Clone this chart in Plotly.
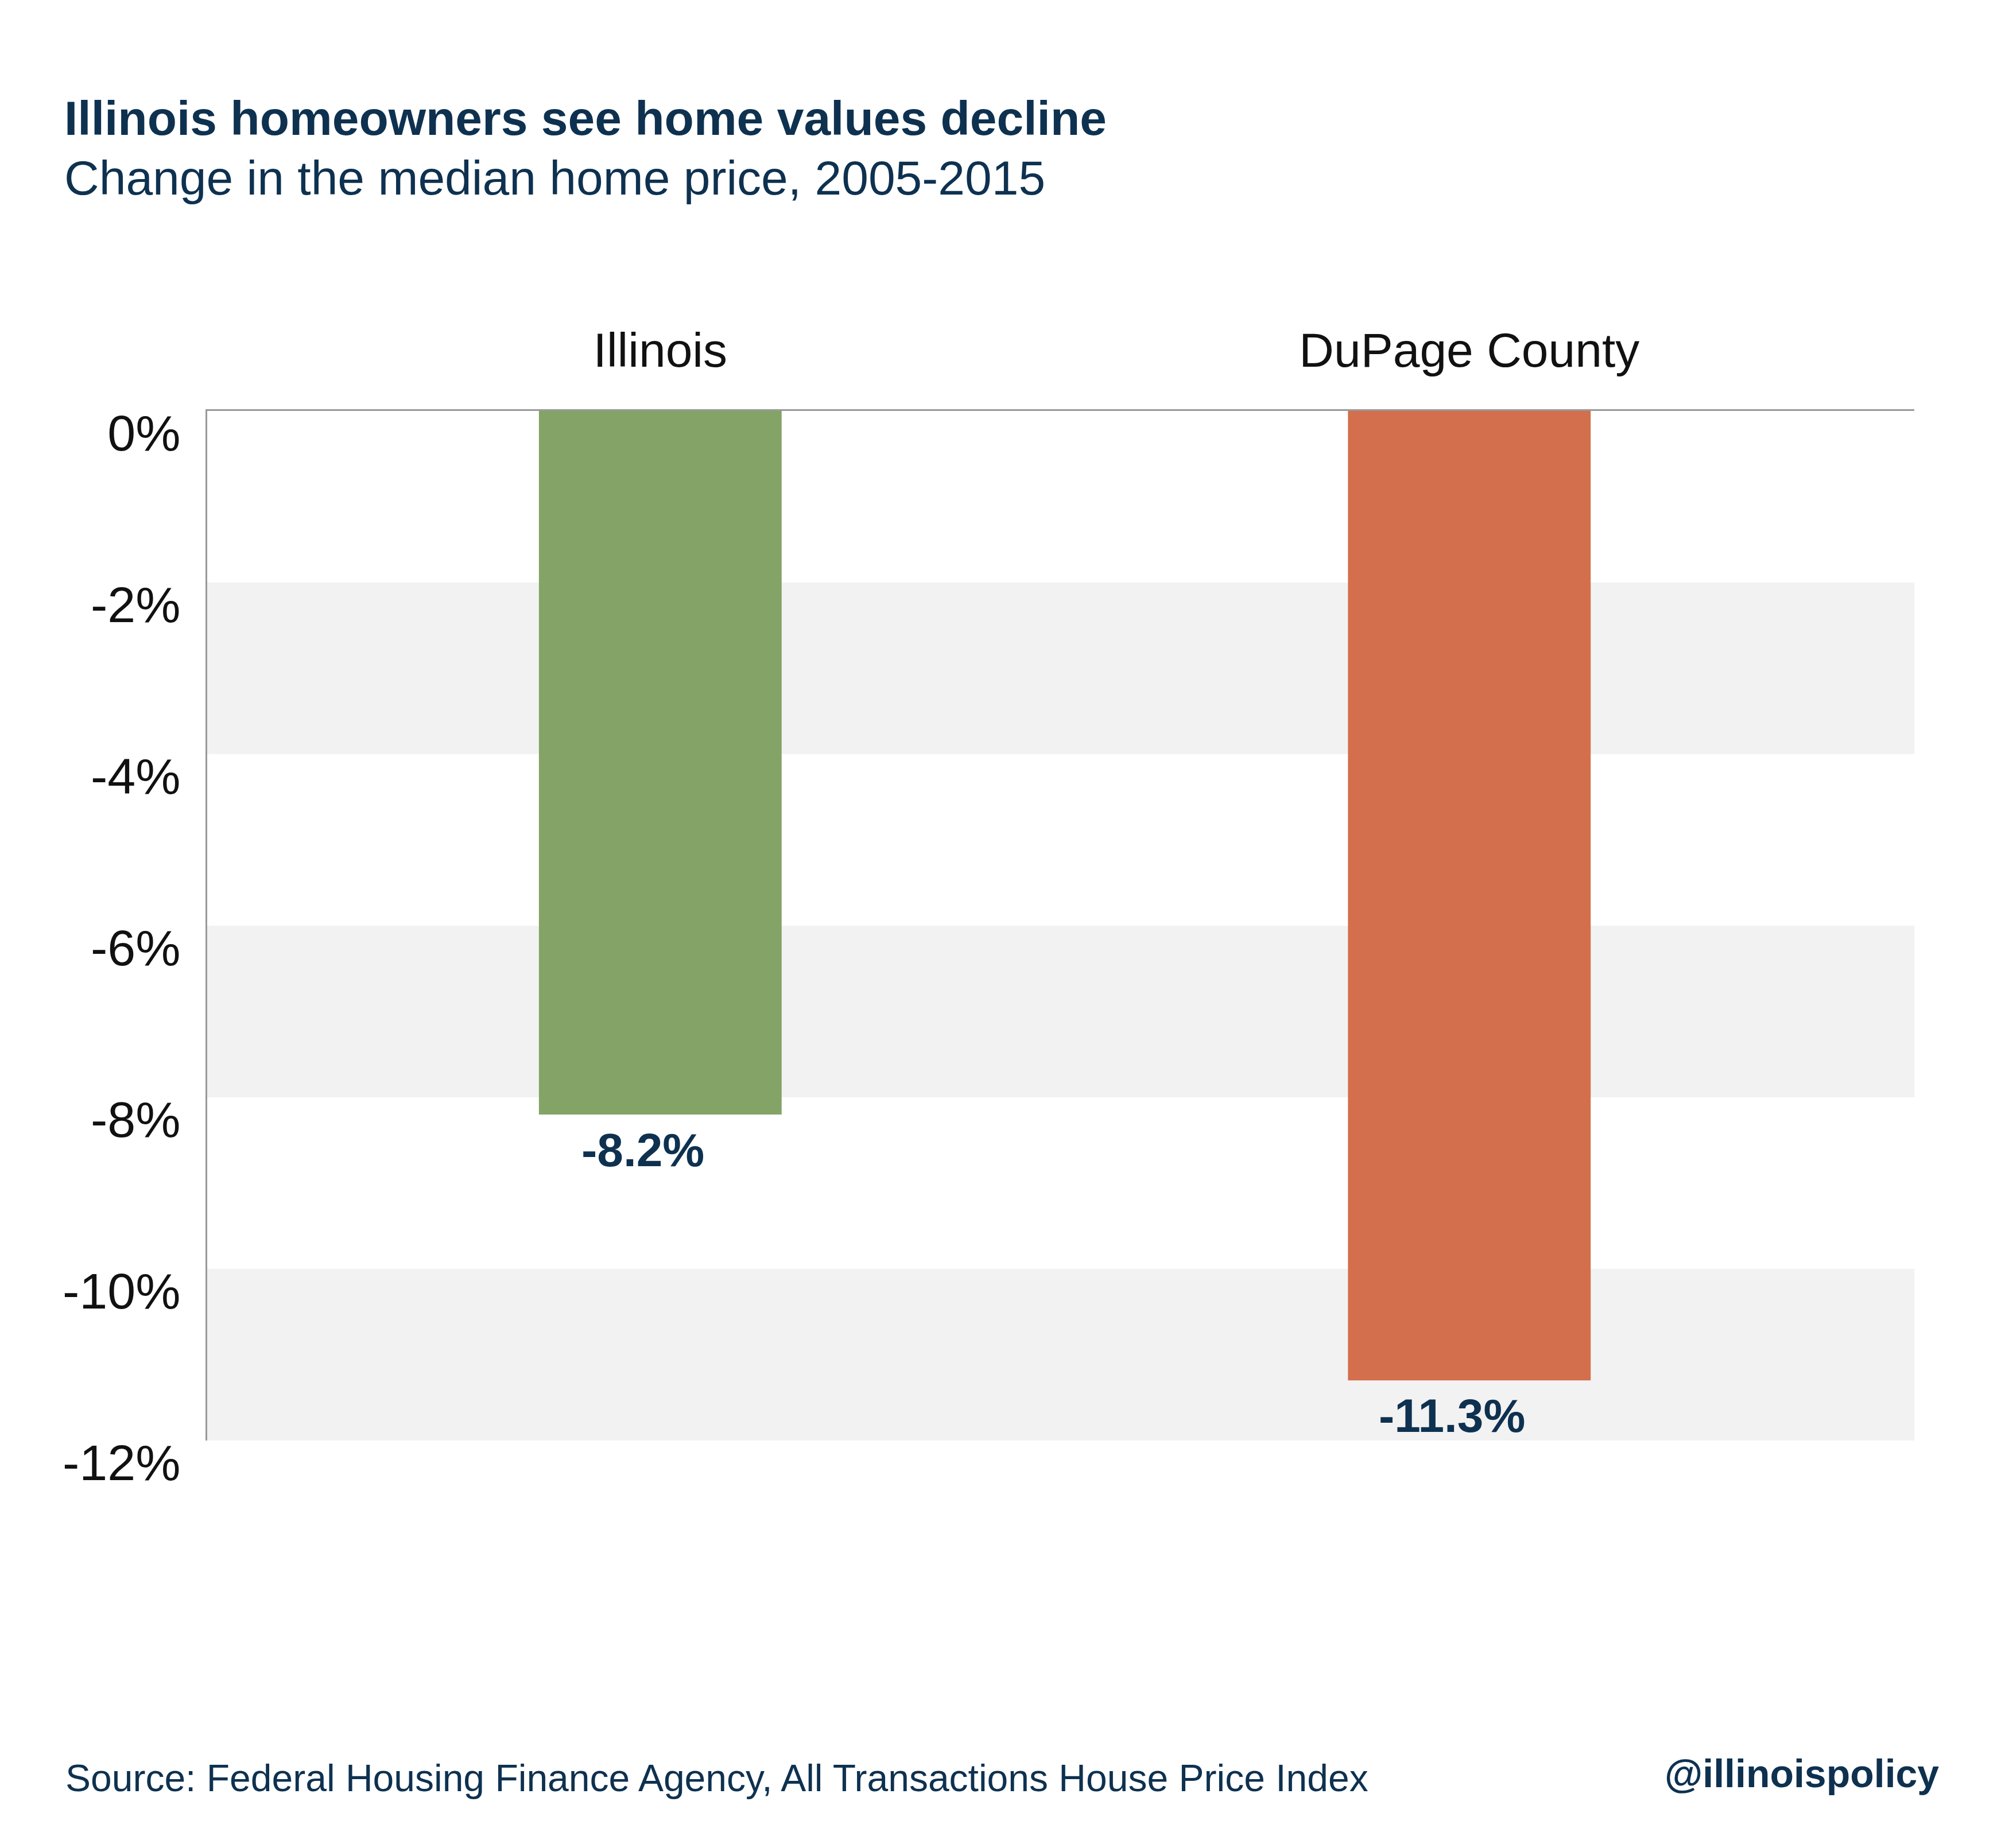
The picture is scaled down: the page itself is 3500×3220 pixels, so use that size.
import plotly.graph_objects as go

# data
regions = ['Illinois', 'DuPage County']
price_change = [-8.2, -11.3]
value_labels = ['-8.2%', '-11.3%']
bar_colors = ['#84A366', '#D36F4D']
tick_vals = [0, -2, -4, -6, -8, -10, -12]
tick_text = ['0%', '-2%', '-4%', '-6%', '-8%', '-10%', '-12%']

W, H = 3500, 3220
M_L, M_R, M_T, M_B = 353, 173, 708, 718
PLOT_W = W - M_L - M_R
PLOT_H = H - M_T - M_B

NAVY = '#0E3150'
FONT = 'Liberation Sans'


def px_x(x):
    """Convert pixel x (from left of page) to paper coords."""
    return (x - M_L) / PLOT_W


def px_y(y):
    """Convert pixel y (from top of page) to paper coords."""
    return (H - M_B - y) / PLOT_H


fig = go.Figure()

fig.add_trace(go.Bar(
    x=regions,
    y=price_change,
    width=0.3,
    marker=dict(color=bar_colors, line=dict(width=0)),
    hoverinfo='skip',
))

# alternating background bands
shapes = []
for i in range(1, len(tick_vals) - 1, 2):
    shapes.append(dict(
        type='rect', xref='x domain', yref='y',
        x0=0, x1=1, y0=tick_vals[i], y1=tick_vals[i + 1],
        fillcolor='#F2F2F2', line=dict(width=0), layer='below',
    ))

annotations = [
    dict(text='<b>Illinois homeowners see home values decline</b>',
         x=px_x(102), y=px_y(198), xref='paper', yref='paper',
         xanchor='left', yanchor='middle', showarrow=False,
         font=dict(family=FONT, size=84, color=NAVY)),
    dict(text='Change in the median home price, 2005-2015',
         x=px_x(102), y=px_y(302), xref='paper', yref='paper',
         xanchor='left', yanchor='middle', showarrow=False,
         font=dict(family=FONT, size=84, color=NAVY)),
    dict(text='Source: Federal Housing Finance Agency, All Transactions House Price Index',
         x=px_x(104), y=px_y(3090), xref='paper', yref='paper',
         xanchor='left', yanchor='middle', showarrow=False,
         font=dict(family=FONT, size=66, color=NAVY)),
    dict(text='<b>@illinoispolicy</b>',
         x=px_x(3372), y=px_y(3082), xref='paper', yref='paper',
         xanchor='right', yanchor='middle', showarrow=False,
         font=dict(family=FONT, size=68, color=NAVY)),
]

# value labels under bar ends
for name, val, lab in zip(regions, price_change, value_labels):
    annotations.append(dict(
        text=f'<b>{lab}</b>', x=name, y=val, xref='x', yref='y',
        xanchor='center', yanchor='top', yshift=-14, xshift=-30,
        showarrow=False,
        font=dict(family=FONT, size=82, color=NAVY),
    ))

fig.update_layout(
    width=W, height=H,
    margin=dict(l=M_L, r=M_R, t=M_T, b=M_B, autoexpand=False),
    paper_bgcolor='white',
    plot_bgcolor='white',
    showlegend=False,
    shapes=shapes,
    annotations=annotations,
    xaxis=dict(
        side='top',
        range=[-0.56, 1.55],
        showgrid=False,
        zeroline=False,
        showline=True,
        linecolor='#999999',
        linewidth=3,
        ticks='',
        ticklabelstandoff=40,
        tickfont=dict(family=FONT, size=84, color='#111111'),
    ),
    yaxis=dict(
        range=[-12, 0],
        tickvals=tick_vals,
        ticktext=tick_text,
        showgrid=False,
        zeroline=False,
        showline=True,
        linecolor='#999999',
        linewidth=3,
        ticks='',
        ticklabelstandoff=26,
        ticklabelshift=38,
        tickfont=dict(family=FONT, size=88, color='#111111'),
    ),
)

fig.write_html('out.html')
